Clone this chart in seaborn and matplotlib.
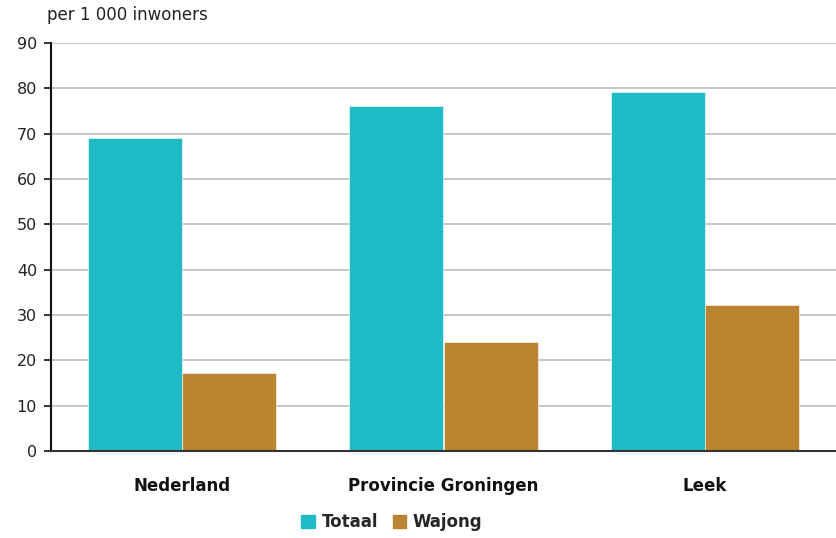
import pandas as pd
import matplotlib.pyplot as plt
import seaborn as sns

# data
regions = ['Nederland', 'Provincie Groningen', 'Leek']
series = ['Totaal', 'Wajong']
totaal = [69.0, 76.2, 79.2]
wajong = [17.2, 24.0, 32.3]
colors = ['#1EBBC5', '#BA8431']

df = pd.DataFrame({'regio': regions * 2,
                   'reeks': ['Totaal'] * 3 + ['Wajong'] * 3,
                   'waarde': totaal + wajong})

sns.set_style('white')
plt.rcParams['font.family'] = ['DejaVu Sans']

fig = plt.figure(figsize=(8.37, 5.38), dpi=100)
ax = fig.add_axes([51 / 837, 1 - 451 / 538, (836 - 51) / 837, (451 - 43) / 538])

sns.barplot(data=df, x='regio', y='waarde', hue='reeks', order=regions,
            hue_order=series, palette=colors, width=0.72, gap=0,
            saturation=1, ax=ax, legend=False)
for p in ax.patches:
    p.set_edgecolor('white')
    p.set_linewidth(0.4)

ax.set_xlim(-0.5, 2.5)
ax.set_ylim(0, 90)
ax.set_yticks(range(0, 91, 10))
ax.yaxis.grid(True, color='#BDBDBD', linewidth=1.2)
ax.set_axisbelow(True)
for s in ['top', 'right']:
    ax.spines[s].set_visible(False)
ax.spines['left'].set_color('#111111')
ax.spines['left'].set_linewidth(1.5)
ax.spines['bottom'].set_color('#333333')
ax.spines['bottom'].set_linewidth(1.5)
ax.tick_params(axis='y', left=True, length=5, width=1.2, color='#111111',
               labelsize=11.5, labelcolor='#222222', pad=5)
ax.tick_params(axis='x', bottom=False, labelsize=12, labelcolor='#111111', pad=15)
for t in ax.get_xticklabels():
    t.set_fontweight('bold')
ax.set_xlabel('')
ax.set_ylabel('')

fig.text(47 / 837, 1 - 15 / 538, 'per 1 000 inwoners', fontsize=12,
         color='#222222', va='center', ha='left')

handles = [plt.Rectangle((0, 0), 1, 1, color=c) for c in colors]
fig.legend(handles, series, loc='center', bbox_to_anchor=(392 / 837, 1 - 522 / 538),
           ncol=2, frameon=False, handlelength=0.8, handleheight=0.8,
           handletextpad=0.4, columnspacing=0.9,
           prop={'size': 12, 'weight': 'bold'})

fig.savefig('out.png', dpi=100)
